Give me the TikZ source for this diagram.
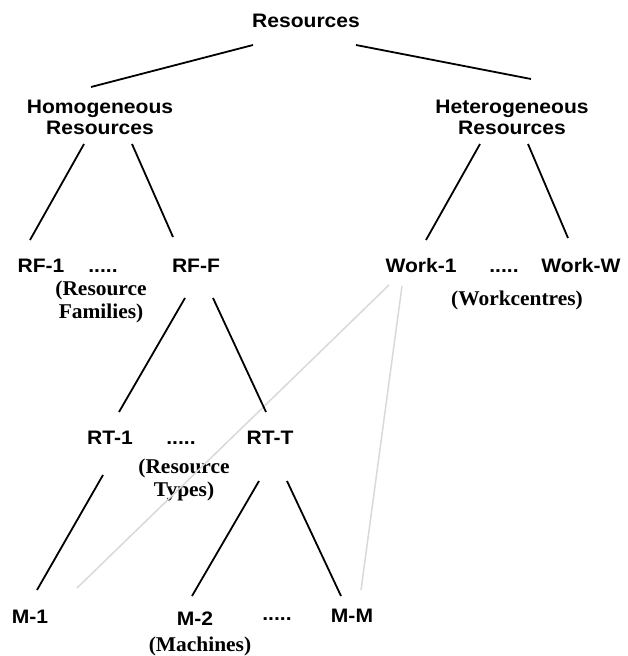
\documentclass[tikz,border=0pt]{standalone}
\usepackage{fontspec}
\setmainfont{Liberation Serif}
\newfontfamily\labfont{Liberation Sans Bold}[FakeStretch=1.08]
\newfontfamily\parfont{Liberation Serif Bold}[FakeStretch=1.02]
\begin{document}
\begin{tikzpicture}[x=1pt,y=-1pt,
  lab/.style={inner sep=0pt,anchor=base,font=\labfont\fontsize{19.5}{21}\selectfont},
  lab2/.style={inner sep=0pt,align=center,font=\labfont\fontsize{19.5}{21}\selectfont},
  par/.style={inner sep=0pt,align=center,font=\parfont\fontsize{21}{23}\selectfont},
  edge/.style={line width=1.8pt,black},
  gedge/.style={line width=1.5pt,black!15}]
\useasboundingbox (0,0) rectangle (628,656);
% nodes
\node[lab] (res) at (306,27) {Resources};
\node[lab2] (hom) at (100,117) {Homogeneous\\Resources};
\node[lab2] (het) at (512,117) {Heterogeneous\\Resources};
\node[lab] (rf1) at (41,272) {RF-1};
\node[lab] (d1) at (103,272) {.....};
\node[lab] (rff) at (196,272) {RF-F};
\node[par] (rfam) at (101,302) {(Resource\\Families)};
\node[lab] (w1) at (421,272) {Work-1};
\node[lab] (d2) at (504,272) {.....};
\node[lab] (ww) at (581,272) {Work-W};
\node[par] (wc) at (517,300) {(Workcentres)};
\node[lab] (rt1) at (110,444) {RT-1};
\node[lab] (d3) at (181,444) {.....};
\node[lab] (rtt) at (270,444) {RT-T};
\node[par] (rtyp) at (184,480) {(Resource\\Types)};
\node[lab] (m1) at (30,623) {M-1};
\node[lab] (m2) at (195,625) {M-2};
\node[lab] (d4) at (277,620) {.....};
\node[lab] (mm) at (352,622) {M-M};
\node[par] (mach) at (200,646) {(Machines)};
% connector end points
\coordinate (res-l) at (253,45);  \coordinate (hom-t) at (91,87);
\coordinate (res-r) at (356,45);  \coordinate (het-t) at (531,79);
\coordinate (hom-l) at (84,144);  \coordinate (rf1-t) at (30,240);
\coordinate (hom-r) at (132,144); \coordinate (rff-t) at (173,237);
\coordinate (het-l) at (480,144); \coordinate (w1-t) at (426,240);
\coordinate (het-r) at (528,144); \coordinate (ww-t) at (568,238);
\coordinate (rff-l) at (185,298); \coordinate (rt1-t) at (119,412);
\coordinate (rff-r) at (213,298); \coordinate (rtt-t) at (266,412);
\coordinate (rt1-b) at (103,475); \coordinate (m1-t) at (37,590);
\coordinate (rtt-l) at (259,481); \coordinate (m2-t) at (192,596);
\coordinate (rtt-r) at (287,481); \coordinate (mm-t) at (341,596);
\coordinate (w1-a) at (389,285);  \coordinate (m1-g) at (77,588);
\coordinate (w1-b) at (402,286);  \coordinate (mm-g) at (361,590);
% connectors
\draw[gedge] (w1-a) -- (m1-g);
\draw[gedge] (w1-b) -- (mm-g);
\draw[edge] (res-l) -- (hom-t);
\draw[edge] (res-r) -- (het-t);
\draw[edge] (hom-l) -- (rf1-t);
\draw[edge] (hom-r) -- (rff-t);
\draw[edge] (het-l) -- (w1-t);
\draw[edge] (het-r) -- (ww-t);
\draw[edge] (rff-l) -- (rt1-t);
\draw[edge] (rff-r) -- (rtt-t);
\draw[edge] (rt1-b) -- (m1-t);
\draw[edge] (rtt-l) -- (m2-t);
\draw[edge] (rtt-r) -- (mm-t);
\end{tikzpicture}
\end{document}
